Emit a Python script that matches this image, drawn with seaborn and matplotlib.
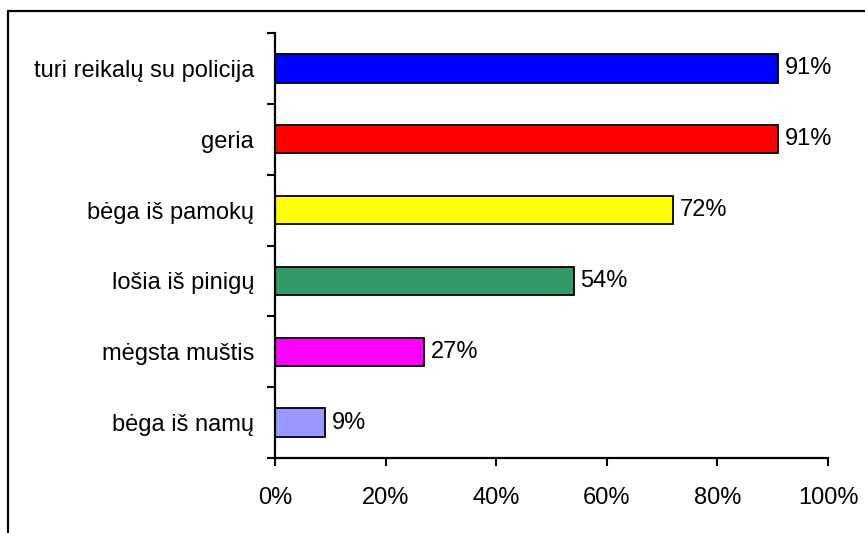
import matplotlib
matplotlib.use("Agg")
import matplotlib.pyplot as plt
from matplotlib.lines import Line2D
from matplotlib.ticker import FixedLocator, PercentFormatter
import seaborn as sns
import pandas as pd

categories = [
    "turi reikalų su policija",
    "geria",
    "bėga iš pamokų",
    "lošia iš pinigų",
    "mėgsta muštis",
    "bėga iš namų",
]
values = [91, 91, 72, 54, 27, 9]
colors = ["#0000FF", "#FF0000", "#FFFF00", "#339966", "#FF00FF", "#9999FF"]
x_ticks = [0, 20, 40, 60, 80, 100]

sns.set_theme(style="white")
plt.rcParams["font.family"] = ["Liberation Sans", "DejaVu Sans"]
plt.rcParams["text.color"] = "black"
plt.rcParams["xtick.color"] = "black"
plt.rcParams["ytick.color"] = "black"

FS = 17

df = pd.DataFrame({"category": categories, "share": [v / 100 for v in values]})

W, H = 865, 533
fig = plt.figure(figsize=(W / 100, H / 100), dpi=100)
ax = fig.add_axes([275 / W, (H - 458) / H, 553 / W, 425 / H])

sns.barplot(
    data=df, x="share", y="category", hue="category",
    palette=colors, legend=False, orient="h", width=0.4,
    edgecolor="black", linewidth=1.3, saturation=1, ax=ax,
)

for cont, v in zip(ax.containers, values):
    ax.bar_label(cont, labels=[f"{v}%"], padding=5, fontsize=FS, color="black")

ax.set_xlim(0, 1)
ax.set_ylim(len(categories) - 0.5, -0.5)
ax.set_xlabel("")
ax.set_ylabel("")

# x axis: percent ticks
ax.xaxis.set_major_locator(FixedLocator([t / 100 for t in x_ticks]))
ax.xaxis.set_major_formatter(PercentFormatter(1.0, decimals=0))
ax.tick_params(axis="x", which="major", direction="out", length=6, width=1.5,
               color="black", labelcolor="black", labelsize=FS, pad=15, bottom=True)

# y axis: tick marks between categories, labels centred on bars
n = len(categories)
ax.yaxis.set_major_locator(FixedLocator([i - 0.5 for i in range(n + 1)]))
ax.yaxis.set_minor_locator(FixedLocator(list(range(n))))
ax.yaxis.set_major_formatter(plt.NullFormatter())
ax.yaxis.set_minor_formatter(plt.FixedFormatter(categories))
ax.tick_params(axis="y", which="major", direction="out", length=6, width=1.5,
               color="black", left=True, labelleft=False)
ax.tick_params(axis="y", which="minor", length=0, labelsize=FS, labelcolor="black",
               pad=15, left=True)

for side in ("top", "right"):
    ax.spines[side].set_visible(False)
for side in ("left", "bottom"):
    ax.spines[side].set_color("black")
    ax.spines[side].set_linewidth(1.6)
ax.grid(False)

# chart area border (top and left edges)
fig.add_artist(Line2D([8 / W, 1.0], [1 - 11 / H, 1 - 11 / H], color="black", lw=1.6))
fig.add_artist(Line2D([8 / W, 8 / W], [0.0, 1 - 11 / H], color="black", lw=1.6))

fig.savefig("out.png", dpi=100)
